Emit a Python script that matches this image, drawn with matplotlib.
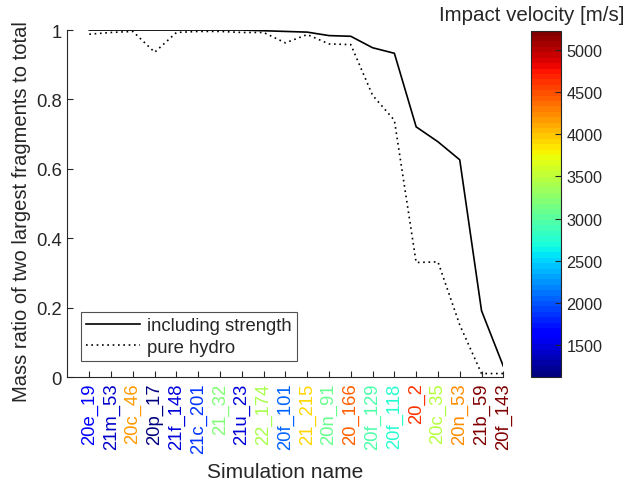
import numpy as np
import matplotlib
matplotlib.use('Agg')
import matplotlib.pyplot as plt
from matplotlib import cm, colors

plt.rcParams['font.family'] = ['Liberation Sans', 'DejaVu Sans']

# simulation names along the x axis
names = ['20e_19', '21m_53', '20c_46', '20p_17', '21f_148', '21c_201', '21_32',
         '21u_23', '22_174', '20f_101', '21_215', '20n_91', '20_166', '20f_129',
         '20f_118', '20_2', '20c_35', '20n_53', '21b_59', '20f_143']
# impact velocity per run [m/s]
velocity = [1650, 1400, 4200, 1150, 1480, 1850, 3230, 1460, 3430, 2080,
            3915, 3065, 4395, 2925, 2770, 4630, 3465, 4250, 5180, 5210]
# mass ratio of two largest fragments to total
with_strength = [1.0, 1.0, 1.0, 1.0, 1.0, 1.0, 1.0, 1.0, 0.998, 0.996,
                 0.994, 0.984, 0.982, 0.949, 0.933, 0.721, 0.678, 0.626, 0.191, 0.031]
pure_hydro = [0.988, 0.993, 0.996, 0.936, 0.993, 0.996, 0.996, 0.993, 0.993, 0.963,
              0.987, 0.960, 0.958, 0.812, 0.740, 0.330, 0.332, 0.150, 0.010, 0.010]

vmin, vmax = 1130, 5225
cmap = plt.get_cmap('jet', 64)
norm = colors.Normalize(vmin=vmin, vmax=vmax)
txt = (0.15, 0.15, 0.15)

fig = plt.figure(figsize=(6.32, 4.85), dpi=100)
ax = fig.add_axes([0.1068, 0.2206, 0.6896, 0.7154])

x = np.arange(1, len(names) + 1)
ax.plot(x, with_strength, color='k', lw=1.2, ls='-', label='including strength')
ax.plot(x, pure_hydro, color='k', lw=1.2, ls=(0, (1, 2.2)), label='pure hydro')

ax.set_xlim(0, 20)
ax.set_ylim(0, 1)
ax.set_xticks(x)
ax.set_xticklabels(names, rotation=90, fontsize=13.3)
for lab, v in zip(ax.get_xticklabels(), velocity):
    lab.set_color(cmap(norm(v)))
ax.set_yticks([0, 0.2, 0.4, 0.6, 0.8, 1])
ax.set_yticklabels(['0', '0.2', '0.4', '0.6', '0.8', '1'], fontsize=13.3, color=txt)
ax.tick_params(direction='in', length=4, width=0.8, color=txt, pad=4)
for s in ['top', 'right']:
    ax.spines[s].set_visible(False)
for s in ['left', 'bottom']:
    ax.spines[s].set_color(txt)
    ax.spines[s].set_linewidth(0.8)

ax.set_xlabel('Simulation name', fontsize=15, color=txt, labelpad=6)
ax.set_ylabel('Mass ratio of two largest fragments to total', fontsize=14.5, color=txt, labelpad=5)
ax.yaxis.set_label_coords(-0.083, 0.48)

leg = ax.legend(loc='lower left', bbox_to_anchor=(0.03, 0.045), fontsize=13.3,
                frameon=True, fancybox=False, edgecolor=txt, handlelength=2.9,
                borderpad=0.3, labelspacing=0.25, handletextpad=0.4, borderaxespad=0)
leg.get_frame().set_linewidth(0.8)
for t in leg.get_texts():
    t.set_color(txt)

# colour bar for impact velocity
cax = fig.add_axes([0.8397, 0.2213, 0.048, 0.7134])
sm = cm.ScalarMappable(norm=norm, cmap=cmap)
cb = fig.colorbar(sm, cax=cax)
cb.set_ticks(np.arange(1500, 5001, 500))
cb.ax.tick_params(direction='in', length=4, width=0.8, color=txt, labelsize=11.7,
                  labelcolor=txt, pad=4)
cb.outline.set_edgecolor(txt)
cb.outline.set_linewidth(0.8)
fig.text(0.842, 0.969, 'Impact velocity [m/s]', ha='center', va='center',
         fontsize=14.8, color=txt)

fig.savefig('out.png', dpi=100)
